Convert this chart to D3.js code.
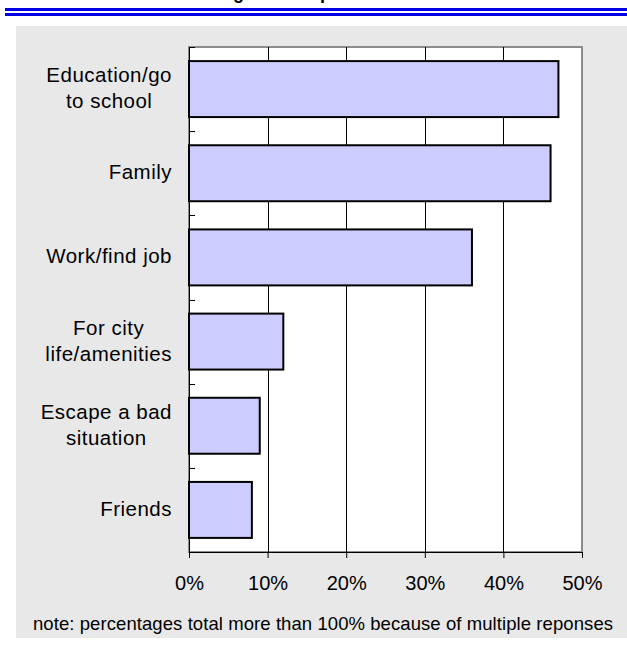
<!DOCTYPE html>
<html>
<head>
<meta charset="utf-8">
<script src="https://cdn.jsdelivr.net/npm/d3@7"></script>
<style>
  html, body { margin: 0; padding: 0; background: #ffffff; }
  svg { display: block; }
  text { font-family: "Liberation Sans", Arial, sans-serif; fill: #000; }
</style>
</head>
<body>
<svg id="chart" width="627" height="645"></svg>
<script>
// Reasons given for moving (share of respondents, %)
const categories = [
  "Education/go\nto school",
  "Family",
  "Work/find job",
  "For city\nlife/amenities",
  "Escape a bad\nsituation",
  "Friends"
];
const values = [47, 46, 36, 12, 9, 8];
const tickValues = [0, 10, 20, 30, 40, 50];
const titleText = "Reasons for Moving to Metropolis";
const noteText = "note: percentages total more than 100% because of multiple reponses";

const svg = d3.select("#chart");

// Header: title (runs off the top edge of the page) and double blue rule
svg.append("text")
  .attr("x", 72).attr("y", -1)
  .style("font-size", "18px").style("font-weight", "bold")
  .text(titleText);
svg.append("rect").attr("x", 5).attr("y", 8).attr("width", 622).attr("height", 3).attr("fill", "#0000e6");
svg.append("rect").attr("x", 5).attr("y", 13).attr("width", 622).attr("height", 3).attr("fill", "#0000e6");

// Chart area background
svg.append("rect")
  .attr("x", 16).attr("y", 26).attr("width", 611).attr("height", 612)
  .attr("fill", "#e8e8e8");

const plot = { left: 189, right: 582, top: 47, bottom: 552 };

const x = d3.scaleLinear().domain([0, 50]).range([plot.left, plot.right]);
const y = d3.scaleBand()
  .domain(categories)
  .range([plot.top, plot.bottom])
  .paddingInner(0.335)
  .paddingOuter(0.1675);

// Plot area
svg.append("rect")
  .attr("x", plot.left).attr("y", plot.top)
  .attr("width", plot.right - plot.left).attr("height", plot.bottom - plot.top)
  .attr("fill", "#ffffff")
  .attr("stroke", "#8c8c8c").attr("stroke-width", 2);

// Vertical gridlines
svg.append("g").selectAll("line")
  .data(tickValues.filter(v => v > 0 && v < 50))
  .join("line")
  .attr("x1", d => Math.round(x(d)) + 0.5).attr("x2", d => Math.round(x(d)) + 0.5)
  .attr("y1", plot.top).attr("y2", plot.bottom)
  .attr("stroke", "#000").attr("stroke-width", 1);

// Bars
svg.append("g").selectAll("rect")
  .data(categories.map((c, i) => ({ c, v: values[i] })))
  .join("rect")
  .attr("x", x(0))
  .attr("y", d => y(d.c))
  .attr("width", d => x(d.v) - x(0))
  .attr("height", y.bandwidth())
  .attr("fill", "#ccccff")
  .attr("stroke", "#000")
  .attr("stroke-width", 2);

// Bottom axis
const xAxis = d3.axisBottom(x)
  .tickValues(tickValues)
  .tickFormat(d => d + "%")
  .tickSize(6)
  .tickSizeOuter(0)
  .tickPadding(18);
const gx = svg.append("g")
  .attr("transform", `translate(0,${plot.bottom})`)
  .call(xAxis);
gx.select(".domain").attr("stroke", "#000");
gx.selectAll(".tick line").attr("stroke", "#000");
gx.selectAll(".tick text")
  .style("font-size", "20px")
  .style("font-family", "'Liberation Sans', Arial, sans-serif")
  .attr("fill", "#000");

// Left axis line with inward ticks at category boundaries
svg.append("line")
  .attr("x1", plot.left + 0.5).attr("x2", plot.left + 0.5)
  .attr("y1", plot.top).attr("y2", plot.bottom)
  .attr("stroke", "#000");
const boundaries = d3.range(categories.length + 1).map(i => plot.top + i * y.step());
svg.append("g").selectAll("line")
  .data(boundaries)
  .join("line")
  .attr("x1", plot.left).attr("x2", plot.left + 6)
  .attr("y1", d => Math.round(d) + 0.5).attr("y2", d => Math.round(d) + 0.5)
  .attr("stroke", "#000");

// Category labels: block right-aligned, lines centred within the block
const labelRight = 172;
const lineGap = 26;
const labels = svg.append("g");
categories.forEach(c => {
  const lines = c.split("\n");
  const g = labels.append("g");
  const texts = lines.map(ln => g.append("text")
    .style("font-size", "20.5px")
    .style("letter-spacing", "0.5px")
    .attr("text-anchor", "middle")
    .text(ln));
  const maxW = d3.max(texts, t => t.node().getComputedTextLength());
  const cx = labelRight - maxW / 2;
  const mid = y(c) + y.bandwidth() / 2;
  texts.forEach((t, i) => {
    const off = (i - (lines.length - 1) / 2) * lineGap;
    t.attr("x", cx).attr("y", mid + off + 6);
  });
});

// Footnote
svg.append("text")
  .attr("x", 33).attr("y", 630)
  .style("font-size", "18.5px")
  .attr("textLength", 580)
  .attr("lengthAdjust", "spacing")
  .text(noteText);
</script>
</body>
</html>
